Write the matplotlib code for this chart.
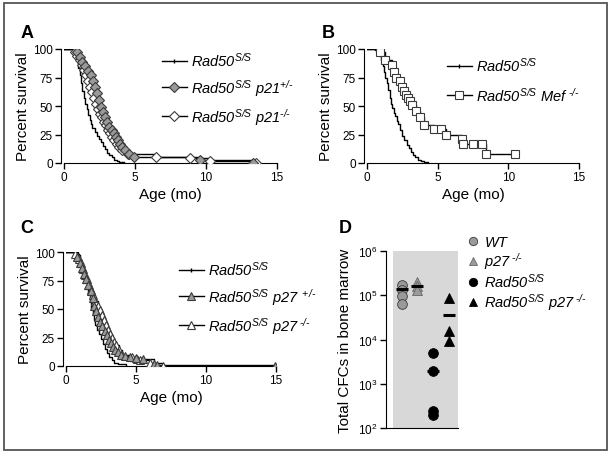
import matplotlib
matplotlib.use("Agg")
import matplotlib.pyplot as plt
from matplotlib.lines import Line2D
from matplotlib.patches import Rectangle

plt.rcParams['font.family'] = ['Liberation Sans', 'DejaVu Sans']
plt.rcParams['mathtext.fontset'] = 'custom'
plt.rcParams['mathtext.rm'] = 'Liberation Sans:italic'
plt.rcParams['mathtext.it'] = 'Liberation Sans:italic'
plt.rcParams['mathtext.bf'] = 'Liberation Sans:bold'

# ---- panel A: Rad50 S/S vs p21 ----
a_ss_t = [0.7, 0.8, 0.9, 1.0, 1.1, 1.2, 1.3, 1.4, 1.5, 1.6, 1.7, 1.8, 1.9, 2.0, 2.15,
          2.3, 2.45, 2.6, 2.75, 2.9, 3.05, 3.2, 3.35, 3.5, 3.7, 3.9, 4.25]
a_ss_s = [98, 96, 90, 83, 77, 70, 63, 57, 52, 47, 42, 38, 34, 31, 27,
          24, 21, 18, 15, 12, 9, 7, 5, 3, 2, 1, 0]
a_het_t = [0.9, 1.1, 1.3, 1.5, 1.7, 1.9, 2.05, 2.15, 2.3, 2.45, 2.6, 2.75, 2.9, 3.05,
           3.2, 3.35, 3.5, 3.65, 3.8, 3.95, 4.1, 4.3, 4.6, 4.95, 9.6, 13.3]
a_het_s = [97, 93, 89, 85, 81, 77, 72, 67, 61, 55, 49, 45, 40, 36,
           32, 29, 26, 23, 20, 17, 14, 11, 8, 5, 2.5, 0]
a_ko_t = [0.8, 0.95, 1.1, 1.25, 1.4, 1.55, 1.7, 1.85, 2.0, 2.12, 2.24, 2.36, 2.5, 2.65,
          2.8, 2.95, 3.1, 3.25, 3.4, 3.55, 3.7, 3.9, 4.1, 4.5, 6.45, 8.9, 10.3, 13.5]
a_ko_s = [97, 94, 90, 86, 82, 77, 72, 67, 62, 57, 52, 47, 43, 40,
          36, 33, 29, 26, 23, 20, 17, 14, 11, 8, 5.5, 4, 2, 0]

# ---- panel B: Rad50 S/S vs Mef ----
b_ss_t = [0.6, 0.75, 0.9, 1.0, 1.1, 1.2, 1.3, 1.4, 1.5, 1.6, 1.7, 1.8, 1.9, 2.0, 2.1,
          2.2, 2.35, 2.5, 2.65, 2.8, 2.95, 3.1, 3.25, 3.4, 3.6, 3.8, 4.0, 4.3]
b_ss_s = [99, 97, 94, 90, 85, 80, 75, 70, 64, 57, 52, 48, 44, 41, 37,
          34, 29, 24, 20, 16, 13, 10, 7, 5, 3, 2, 1, 0]
b_mef_t = [0.9, 1.3, 1.75, 1.9, 2.05, 2.35, 2.5, 2.65, 2.78, 2.9, 3.05, 3.2, 3.45, 3.75,
           4.05, 4.75, 5.25, 5.6, 6.7, 6.8, 7.5, 8.15, 8.4, 10.5]
b_mef_s = [97, 90, 86, 80, 75, 72, 67, 63, 60, 57, 54, 51, 46, 40,
           33, 30, 30, 25, 21, 17, 17, 17, 8, 8]

# ---- panel C: Rad50 S/S vs p27 ----
c_ss_t = [0.85, 1.0, 1.1, 1.2, 1.3, 1.4, 1.5, 1.6, 1.7, 1.8, 1.9, 2.0, 2.1, 2.2, 2.35,
          2.5, 2.65, 2.8, 2.95, 3.1, 3.25, 3.4, 3.7, 4.3]
c_ss_s = [97, 93, 88, 84, 79, 74, 69, 64, 58, 51, 45, 40, 36, 32, 28,
          24, 19, 15, 11, 8, 5, 3, 2, 0]
c_het_t = [0.75, 1.0, 1.15, 1.3, 1.45, 1.6, 1.75, 1.9, 2.0, 2.15, 2.3, 2.45, 2.6, 2.75,
           2.9, 3.05, 3.2, 3.35, 3.5, 3.7, 3.9, 4.2, 4.6, 5.0, 5.5, 6.25, 6.5, 14.9]
c_het_s = [96, 90, 86, 81, 76, 71, 66, 60, 53, 48, 43, 39, 35, 31,
           27, 23, 20, 17, 14, 12, 10, 9, 8, 7, 6, 2, 1, 0]
c_ko_t = [0.65, 0.9, 1.05, 1.2, 1.35, 1.5, 1.65, 1.8, 1.95, 2.1, 2.25, 2.4, 2.55, 2.7,
          2.85, 3.0, 3.15, 3.3, 3.45, 3.6, 3.8, 4.0, 4.7, 5.05, 5.3, 6.0, 6.9]
c_ko_s = [98, 94, 90, 85, 80, 76, 71, 67, 62, 57, 53, 49, 45, 40,
          36, 32, 28, 25, 21, 18, 14, 10, 8, 6.5, 5, 3, 0]

# ---- panel D: CFCs ----
d_groups = [1, 2, 3, 4]
d_values = [[1.7e5, 1.3e5, 9.5e4, 6.2e4],
            [2.0e5, 1.6e5, 1.3e5],
            [5.0e3, 1.9e3, 2.4e2, 2.0e2],
            [8.7e4, 1.55e4, 9.1e3]]
d_means = [1.35e5, 1.6e5, 1.9e3, 3.6e4]
d_ticks = [1e2, 1e3, 1e4, 1e5, 1e6]
d_ticklabels = [r'$\mathregular{10^2}$', r'$\mathregular{10^3}$', r'$\mathregular{10^4}$',
                r'$\mathregular{10^5}$', r'$\mathregular{10^6}$']

GRAY = '#9a9a9a'
EDGE = '#3a3a3a'
HY = '\u2010'  # plain hyphen inside superscripts

W, H = 612, 456
fig = plt.figure(figsize=(W / 100, H / 100), dpi=100)


def box(x0, y0, x1, y1):
    # pixel box -> figure rect
    return [x0 / W, 1 - y1 / H, (x1 - x0) / W, (y1 - y0) / H]


def km(ax, t, s, marker=None, fc='white', ms=5.5):
    xs = [0] + list(t)
    ys = [100] + list(s)
    ax.step(xs, ys, where='post', color='black', lw=1.0, zorder=2)
    if marker:
        ax.plot(t, s, ls='none', marker=marker, mfc=fc, mec=EDGE, mew=0.8,
                ms=ms, zorder=3)


def style_surv(ax):
    ax.set_xlim(0, 15)
    ax.set_ylim(0, 100)
    ax.set_xticks([0, 5, 10, 15])
    ax.set_yticks([0, 25, 50, 75, 100])
    for sp in ['top', 'right']:
        ax.spines[sp].set_visible(False)
    ax.spines['left'].set_position(('outward', 2))
    ax.tick_params(length=4, width=1, labelsize=8.5, pad=2)
    ax.set_xlabel('Age (mo)', fontsize=11, labelpad=3)
    ax.set_ylabel('Percent survival', fontsize=11, labelpad=2)
    ax.patch.set_alpha(0)


def leg(ax, handles, labels, x, y, spacing=0.55):
    ax.legend(handles, labels, loc='upper left', bbox_to_anchor=(x / W, 1 - y / H),
              bbox_transform=fig.transFigure, frameon=False, fontsize=10.5,
              handlelength=1.7, handletextpad=0.3, labelspacing=spacing,
              borderpad=0, borderaxespad=0)


def h(marker=None, fc='white', ms=5.5):
    if marker is None:
        return Line2D([], [], color='black', lw=1.0, marker='|', ms=3)
    return Line2D([], [], color='black', lw=1.0, marker=marker, mfc=fc,
                  mec=EDGE, mew=0.8, ms=ms)


def lab(gene=None, sup=None, gap=''):
    s = r'$Rad50^{S/S}'
    if gene:
        s += r'\ ' + gene + '^{' + gap + sup + '}'
    return s + '$'


# A
axA = fig.add_axes(box(64, 50, 277, 164))
km(axA, a_ss_t, a_ss_s)
km(axA, a_ko_t, a_ko_s, 'D', 'white', 4.6)
km(axA, a_het_t, a_het_s, 'D', GRAY, 4.6)
style_surv(axA)
leg(axA, [h(), h('D', GRAY, 4.6), h('D', 'white', 4.6)],
    [lab(), lab('p21', '+/' + HY), lab('p21', HY + '/' + HY)], 162, 52)

# B
axB = fig.add_axes(box(367, 50, 579, 164))
km(axB, b_ss_t, b_ss_s)
km(axB, b_mef_t, b_mef_s, 's', 'white', 6)
style_surv(axB)
leg(axB, [h(), h('s', 'white', 6)],
    [lab(), lab('Mef', HY + '/' + HY, r'\ ')], 447, 57, 0.8)

# C
axC = fig.add_axes(box(66, 253, 276, 367))
km(axC, c_ss_t, c_ss_s)
km(axC, c_ko_t, c_ko_s, '^', 'white', 5.3)
km(axC, c_het_t, c_het_s, '^', GRAY, 5.3)
style_surv(axC)
leg(axC, [h(), h('^', GRAY, 5.3), h('^', 'white', 5.3)],
    [lab(), lab('p27', '+/' + HY, r'\ '), lab('p27', HY + '/' + HY, r'\ ')], 179, 261)

# D
axD = fig.add_axes(box(386, 252, 458, 429))
axD.set_yscale('log')
axD.set_ylim(1e2, 1e6)
axD.set_xlim(0, 4.6)
axD.add_patch(Rectangle((0.45, 1e2), 4.15, 1e6 - 1e2, color='#d8d8d8', zorder=0, lw=0))
styles = [('o', GRAY, EDGE, 7), ('^', GRAY, '#666666', 6.5), ('o', 'black', 'black', 7),
          ('^', 'black', 'black', 7)]
for g, vals, m, st in zip(d_groups, d_values, d_means, styles):
    mk, fc, ec, ms = st
    axD.plot([g] * len(vals), vals, ls='none', marker=mk, mfc=fc, mec=ec, ms=ms, mew=0.6,
             zorder=3)
    axD.hlines(m, g - 0.38, g + 0.38, color='black', lw=2.2, zorder=4)
for sp in ['top', 'right']:
    axD.spines[sp].set_visible(False)
axD.set_xticks([])
axD.set_yticks(d_ticks)
axD.set_yticklabels(d_ticklabels)
axD.yaxis.set_minor_locator(matplotlib.ticker.NullLocator())
axD.tick_params(length=4, width=1, labelsize=8.5, pad=2)
axD.set_ylabel('Total CFCs in bone marrow', fontsize=11, labelpad=4)
dh = [Line2D([], [], ls='none', marker=s[0], mfc=s[1], mec=s[2], ms=s[3] - 1, mew=0.6)
      for s in styles]
axD.legend(dh, [r'$WT$', r'$p27^{\ ' + HY + '/' + HY + '}$', lab(),
                lab('p27', HY + '/' + HY, r'\ ')],
           loc='upper left', bbox_to_anchor=(467 / W, 1 - 236 / H),
           bbox_transform=fig.transFigure, frameon=False, fontsize=10.5,
           handlelength=0.8, handletextpad=0.4, labelspacing=0.08,
           borderpad=0, borderaxespad=0)

# panel letters
for s, x, y in [('A', 27, 33), ('B', 328, 33), ('C', 27, 229), ('D', 345, 229)]:
    fig.text(x / W, 1 - y / H, s, fontsize=13, fontweight='bold', ha='center', va='center')

# outer frame
fig.patches.append(Rectangle((4 / W, 5 / H), 603 / W, 447 / H, transform=fig.transFigure,
                             fill=False, edgecolor='#555555', lw=1.3))

fig.savefig('out.png', dpi=100)
